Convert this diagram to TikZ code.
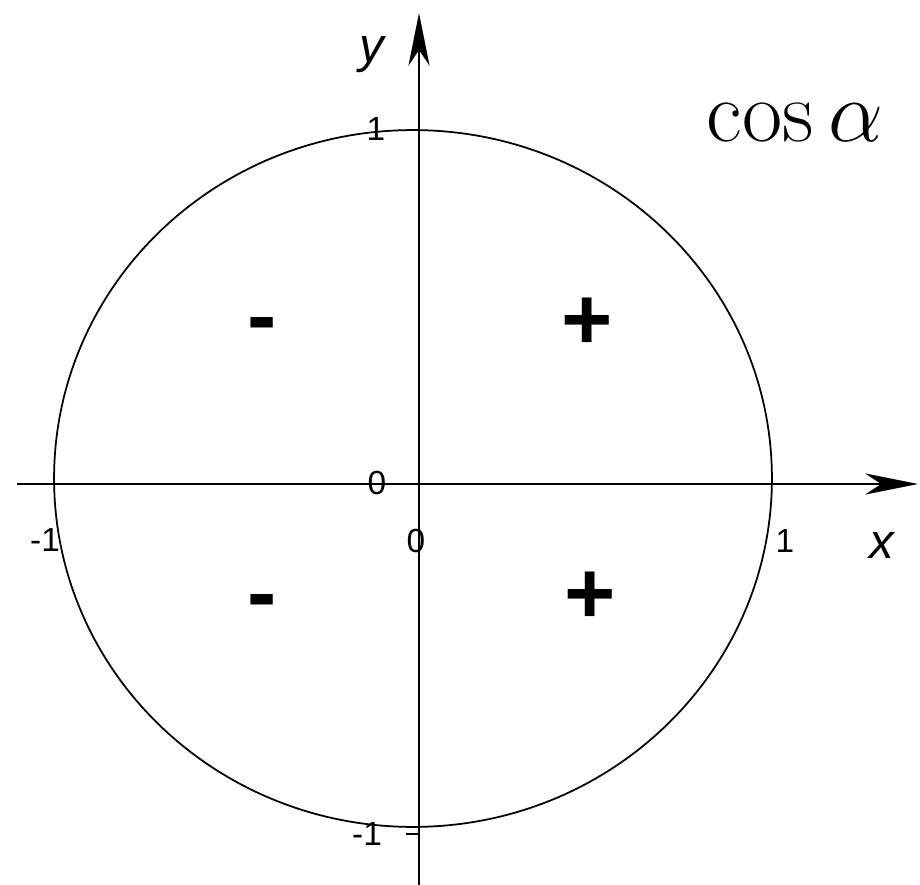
\documentclass[tikz,border=0pt]{standalone}
\usepackage{fontspec}
\setsansfont{Liberation Sans}
\usepackage{graphicx}
\usepackage{tikz}
\usetikzlibrary{arrows.meta, positioning}

\begin{document}
\begin{tikzpicture}[x=0.02cm, y=-0.02cm,
            axis/.style={line width=1.1pt, -{Stealth[length=30pt, width=12pt, inset=9pt]}},
            ring/.style={line width=1pt},
            tick/.style={inner sep=0pt, font=\fontsize{19}{22}\selectfont\sffamily},
            axlab/.style={inner sep=0pt, font=\fontsize{28}{32}\selectfont\sffamily\itshape},
            sign/.style={inner sep=0pt, font=\fontsize{50}{54}\selectfont\sffamily\bfseries}
        ]
            \useasboundingbox (0,0) rectangle (920,885);

            % Origin and axis ends
            \coordinate (O)    at (419,484);
            \coordinate (C)    at (413,478.5);
            \coordinate (xbeg) at (17,484);
            \coordinate (xend) at (918,484);
            \coordinate (ybeg) at (419,885);
            \coordinate (yend) at (419,13);

            % Unit circle
            \draw[ring] (C) ellipse [x radius=7.18cm, y radius=6.97cm];

            % Axes
            \draw[axis] (xbeg) -- (xend);
            \draw[axis] (ybeg) -- (yend);
            \draw[ring] (406,834) -- (419,834);

            % Axis names
            \node[axlab] (xname) at (882,546) {x};
            \node[axlab] (yname) at (372,55)  {y};

            % Tick labels
            \node[tick] (ytop)  at (376,129) {1};
            \node[tick] (ybot)  at (367,834) {-1};
            \node[tick] (xleft) at (45,540)  {-1};
            \node[tick] (xrght) at (785,541) {1};
            \node[tick] (zeroa) at (377,483) {0};
            \node[tick] (zerob) at (416,541) {0};

            % Signs of the quadrants
            \node[sign] (q1) at (587,324) {+};
            \node[sign] (q2) at (262,331) {-};
            \node[sign] (q3) at (262,608) {-};
            \node[sign] (q4) at (590,598) {+};

            % Title
            \node[inner sep=0pt, anchor=base, font=\fontsize{24.88}{30}\selectfont] (title) at (795,142)
                {\scalebox{2}{$\cos\alpha$}};

        \end{tikzpicture}
\end{document}
